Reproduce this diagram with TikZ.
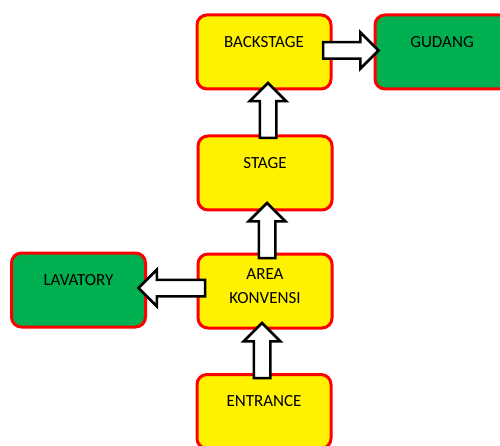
\documentclass[tikz,border=0pt]{standalone}
\usepackage{fontspec}
\setmainfont{Carlito}
\usetikzlibrary{shapes.arrows,calc}

\definecolor{officegreen}{HTML}{00B050}

% hollow block arrow from one point to another
\newcommand{\blockarrow}[2]{%
  \path let \p1=(#1), \p2=(#2),
    \n1={atan2(\y2-\y1,\x2-\x1)}, \n2={veclen(\x2-\x1,\y2-\y1)} in
    node[barrow, minimum height=\n2, rotate=\n1, anchor=tail] at (#1) {};}

\begin{document}
\begin{tikzpicture}[x=1pt,y=-1pt,
  room/.style={draw=red, line width=3pt, rounded corners=10pt,
    minimum width=134pt, minimum height=74pt, inner sep=0pt,
    font=\fontsize{17}{24}\selectfont, align=center,
    text height=11pt, text depth=20pt},
  hall/.style={room, fill=yellow},
  annex/.style={room, fill=officegreen},
  barrow/.style={single arrow, draw=black, fill=white, line width=2.5pt,
    inner xsep=0pt, inner ysep=7pt, outer sep=0pt,
    single arrow head extend=10pt, minimum width=0pt}]
  \useasboundingbox (0,0) rectangle (500,446);

  \node[hall] (backstage) at (264,52) {BACKSTAGE};
  \node[annex] (gudang) at (442,52) {GUDANG};
  \node[hall] (stage) at (265,173) {STAGE};
  \node[hall, text height=35pt, text depth=11pt] (area) at (265,291) {AREA\\KONVENSI};
  \node[annex] (lavatory) at (78.5,290) {LAVATORY};
  \node[hall, text depth=22pt] (entrance) at (264,411.5) {ENTRANCE};

  \coordinate (bs-out) at ($(backstage.east)+(-9.5,-1.5)$);
  \coordinate (gd-in) at ($(gudang.west)+(5,-1.5)$);
  \coordinate (st-out) at ($(stage.north)+(3,3.5)$);
  \coordinate (bs-in) at ($(backstage.south)+(4,-7.5)$);
  \coordinate (ar-up) at ($(area.north)+(2,5.5)$);
  \coordinate (st-in) at ($(stage.south)+(2,-8.5)$);
  \coordinate (ar-left) at ($(area.west)+(8.5,-3)$);
  \coordinate (lv-in) at ($(lavatory.east)+(-8.5,-2)$);
  \coordinate (en-out) at ($(entrance.north)+(-2,5)$);
  \coordinate (ar-in) at ($(area.south)+(-3,-6.5)$);

  \blockarrow{bs-out}{gd-in}
  \blockarrow{st-out}{bs-in}
  \blockarrow{ar-up}{st-in}
  \blockarrow{ar-left}{lv-in}
  \blockarrow{en-out}{ar-in}

\end{tikzpicture}
\end{document}
